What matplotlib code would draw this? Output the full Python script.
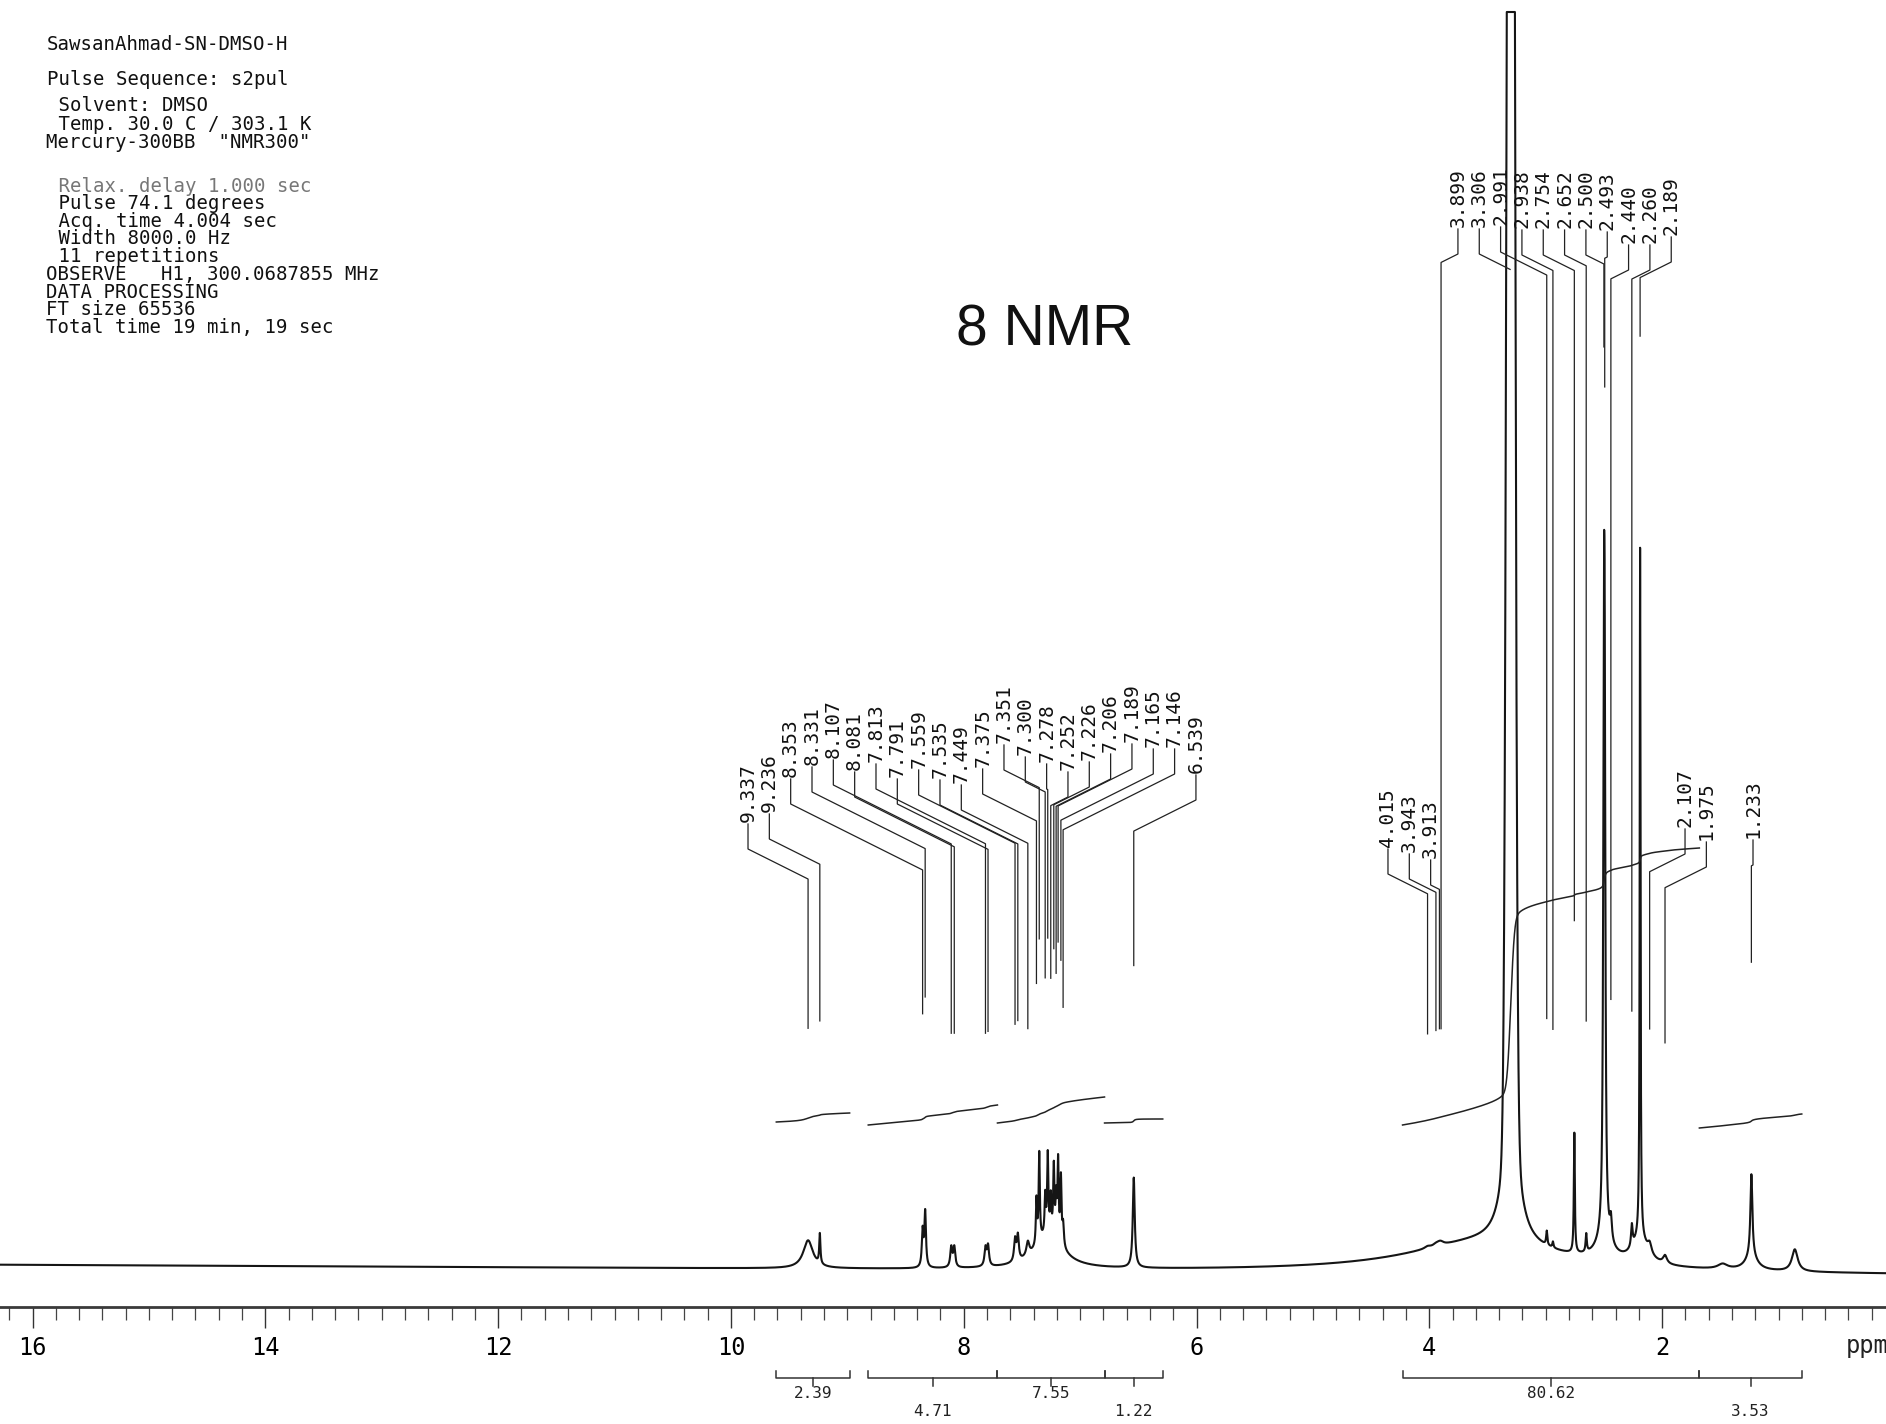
import numpy as np
import matplotlib
matplotlib.use("Agg")
import matplotlib.pyplot as plt
from matplotlib.ticker import MultipleLocator, FormatStrFormatter

# ---------------- header (acquisition parameters) ----------------
header_lines = [
    "SawsanAhmad-SN-DMSO-H",
    "Pulse Sequence: s2pul",
    " Solvent: DMSO",
    " Temp. 30.0 C / 303.1 K",
    "Mercury-300BB  \"NMR300\"",
    " Relax. delay 1.000 sec",
    " Pulse 74.1 degrees",
    " Acq. time 4.004 sec",
    " Width 8000.0 Hz",
    " 11 repetitions",
    "OBSERVE   H1, 300.0687855 MHz",
    "DATA PROCESSING",
    "FT size 65536",
    "Total time 19 min, 19 sec",
]
header_colors = ["#111"] * 5 + ["#777"] + ["#111"] * 8
title_text = "8 NMR"

# ---------------- peak list: position (ppm), amplitude (px), half-width (ppm) ----------------
peak_ppm = [9.337, 9.236, 8.353, 8.331, 8.107, 8.081, 7.813, 7.791, 7.559, 7.535,
            7.449, 7.375, 7.351, 7.300, 7.278, 7.252, 7.226, 7.206, 7.189, 7.165,
            7.146, 6.539,
            4.015, 3.943, 3.913, 3.899, 2.991, 2.938, 2.754, 2.652, 2.500, 2.493,
            2.440, 2.260, 2.189, 2.107, 1.975, 1.233]
peak_height = [28, 30, 36, 55, 20, 20, 18, 20, 22, 25,
               14, 45, 88, 38, 78, 35, 68, 38, 78, 65,
               22, 90,
               2, 2, 2, 2, 14, 6, 120, 18, 480, 400,
               22, 22, 690, 10, 8, 82]
peak_width = [0.05, 0.006, 0.008, 0.008, 0.010, 0.010, 0.010, 0.010, 0.010, 0.010,
              0.015, 0.006, 0.006, 0.006, 0.006, 0.006, 0.006, 0.006, 0.006, 0.006,
              0.008, 0.010,
              0.03, 0.03, 0.03, 0.03, 0.006, 0.006, 0.005, 0.006, 0.007, 0.007,
              0.010, 0.008, 0.004, 0.02, 0.02, 0.010]

# unlabeled broad components (aromatic envelope, exchange hump, solvent feet, alkyl signals)
broad_ppm = [7.27, 3.55, 3.30, 2.50, 2.19, 1.233, 0.86, 1.48]
broad_height = [34, 30, 200, 20, 25, 14, 22, 5]
broad_width = [0.14, 0.80, 0.06, 0.08, 0.08, 0.06, 0.03, 0.05]
baseline_tilt = 10          # px drop of the baseline from 16 ppm to 0 ppm

# water signal core (Gaussian)
core_ppm = [3.30]
core_height = [3000]
core_sigma = [0.025]

# ---------------- peak-label groups ----------------
aromatic_labels = [9.337, 9.236, 8.353, 8.331, 8.107, 8.081, 7.813, 7.791, 7.559, 7.535,
                   7.449, 7.375, 7.351, 7.300, 7.278, 7.252, 7.226, 7.206, 7.189, 7.165,
                   7.146, 6.539]
upper_labels = [3.899, 3.306, 2.991, 2.938, 2.754, 2.652, 2.500, 2.493, 2.440, 2.260, 2.189]
lower_labels_a = [4.015, 3.943, 3.913]
lower_labels_b = [2.107, 1.975]
lower_labels_c = [1.233]

# ---------------- integrals ----------------
integral_regions = [(9.61, 8.98), (8.82, 7.71), (7.71, 6.79), (6.79, 6.29),
                    (4.23, 1.68), (1.68, 0.80)]
integral_values = ["2.39", "4.71", "7.55", "1.22", "80.62", "3.53"]

# ---------------- layout (pixels of the 1886x1424 canvas) ----------------
W, H = 1886, 1424
BASE = 1265                 # baseline row (px from top)
PX_PER_PPM = 116.4
X16 = 32.5                  # pixel column of 16 ppm
XL = 16 + X16 / PX_PER_PPM
XR = 16 - (W - X16) / PX_PER_PPM
CLIP = BASE - 12            # plotter clip level

label_groups = [
    (aromatic_labels, 9.853, [822, 812, 777, 765, 758, 770, 762, 777, 768, 778, 783,
                              767, 743, 755, 762, 770, 760, 752, 742, 747, 747, 773]),
    (upper_labels, 3.754, [227, 227, 225, 228, 228, 228, 228, 230, 243, 243, 235]),
    (lower_labels_a, 4.355, [847, 852, 858]),
    (lower_labels_b, 1.803, [827, 840]),
    (lower_labels_c, 1.219, [838]),
]
LABEL_STEP = 21.33 / PX_PER_PPM

integral_start = [143, 140, 142, 142, 140, 137]
integral_rise = [6, 8, 14, 4, 257, 6]
integral_drift = [3, 12, 12, 0, 20, 8]
integral_row = [0, 1, 0, 1, 0, 1]

MONO = "DejaVu Sans Mono"

fig = plt.figure(figsize=(W / 100, H / 100), dpi=100)
ax = fig.add_axes([0, 0, 1, 1])
ax.set_xlim(XL, XR)
ax.set_ylim(BASE - H, BASE)
for s in ("top", "left", "right"):
    ax.spines[s].set_visible(False)
ax.spines["bottom"].set_position(("data", BASE - 1307))
ax.spines["bottom"].set_linewidth(2.0)
ax.spines["bottom"].set_color("#3a3a3a")
ax.yaxis.set_visible(False)
ax.xaxis.set_major_locator(MultipleLocator(2))
ax.xaxis.set_minor_locator(MultipleLocator(0.2))
ax.xaxis.set_major_formatter(FormatStrFormatter("%d"))
ax.tick_params(axis="x", which="major", length=15, width=1.0, color="#333",
               pad=6, labelsize=17)
ax.tick_params(axis="x", which="minor", length=9, width=0.9, color="#444")
for lab in ax.get_xticklabels():
    lab.set_family(MONO)
ax.patch.set_visible(False)

# ---------------- spectrum ----------------
x = np.linspace(XL, XR, 60000)
spec = -baseline_tilt * (16 - x) / 16
for c, h, w in zip(peak_ppm, peak_height, peak_width):
    spec += h / (1 + ((x - c) / w) ** 2)
for c, h, w in zip(broad_ppm, broad_height, broad_width):
    spec += h / (1 + ((x - c) / w) ** 2)
for c, h, s in zip(core_ppm, core_height, core_sigma):
    spec += h * np.exp(-0.5 * ((x - c) / s) ** 2)

ax.plot(x, np.minimum(spec, CLIP), color="#151515", lw=1.5)

def spec_at(p):
    return float(np.interp(-p, -x, spec))

# ---------------- integral curves and brackets ----------------
y_br = BASE - 1378
for (a, b), val, y0, rise, drift, row in zip(integral_regions, integral_values,
                                             integral_start, integral_rise,
                                             integral_drift, integral_row):
    m = (x <= a) & (x >= b)
    part = spec[m] - spec[m].min()
    cum = np.cumsum(part)
    cum = cum / cum[-1]
    t = np.linspace(0, 1, m.sum())
    ax.plot(x[m], y0 + rise * cum + drift * t, color="#222", lw=1.1)
    ax.plot([a, a, b, b], [y_br + 7, y_br, y_br, y_br + 7], color="#333", lw=1.1)
    mid = (a + b) / 2
    ax.plot([mid, mid], [y_br, y_br - 8], color="#333", lw=1.1)
    ax.text(mid, BASE - (1386 if row == 0 else 1404), val, ha="center", va="top",
            family=MONO, fontsize=11.5, color="#222")

# ---------------- peak labels with leaders ----------------
for values, start, bottoms in label_groups:
    for i, (p, bt) in enumerate(zip(values, bottoms)):
        xt = start - i * LABEL_STEP
        yb = BASE - bt
        ax.text(xt, yb, f"{p:.3f}", rotation=90, ha="center", va="bottom",
                family=MONO, fontsize=14, color="#111")
        k1 = yb - 27
        k2 = k1 - 0.5 * abs(xt - p) * PX_PER_PPM
        end = min(k2, min(spec_at(p), CLIP) + 212)
        ax.plot([xt, xt, p, p], [yb - 2, k1, k2, end], color="#222", lw=0.9)

# ---------------- texts ----------------
y_base = [50, 85, 111, 130, 148, 192, 209, 227, 244, 262, 280, 298, 315, 333]
x_left = [47, 47, 47, 47, 46, 47, 47, 47, 47, 47, 46, 46, 46, 46]
for s, yb, xl, col in zip(header_lines, y_base, x_left, header_colors):
    fig.text(xl / W, 1 - yb / H, s, family=MONO, fontsize=13.7, va="baseline",
             ha="left", color=col)

fig.text(1045 / W, 1 - 346 / H, title_text, family="Liberation Sans", fontsize=41,
         ha="center", va="baseline", color="#111")
fig.text(1846 / W, 1 - 1353 / H, "ppm", family=MONO, fontsize=17, ha="left",
         va="baseline", color="#222")

fig.savefig("out.png", dpi=100, facecolor="white")
